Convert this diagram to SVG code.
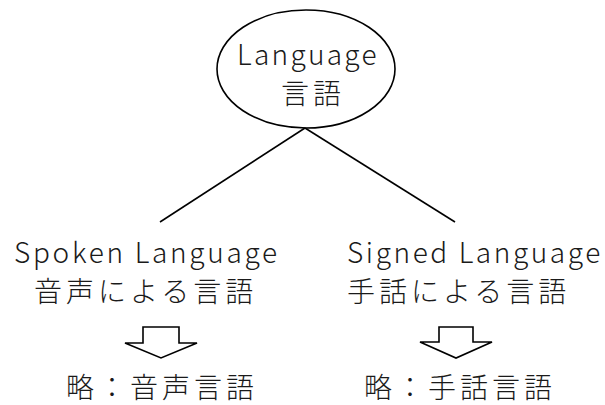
<svg xmlns="http://www.w3.org/2000/svg" width="605" height="405" viewBox="0 0 605 405">
<style>
text{font-family:"Noto Sans CJK JP","Noto Sans",sans-serif;font-size:28px;font-weight:300;fill:#1a1a1a}
.l{letter-spacing:2.6px}
.j{letter-spacing:4px}
.s{fill:none;stroke:#000;stroke-width:1.6}
</style>
<rect width="605" height="405" fill="#fff"/>
<g id="connectors">
<line class="s" x1="305" y1="128" x2="160" y2="222"/>
<line class="s" x1="305" y1="128" x2="455" y2="222"/>
</g>
<g id="language">
<ellipse class="s" cx="306" cy="69" rx="89" ry="59"/>
<text x="237" y="65" style="letter-spacing:2.3px">Language</text>
<text class="j" x="281" y="104">言語</text>
</g>
<g id="spoken">
<text class="l" x="14" y="263" style="letter-spacing:2.7px">Spoken Language</text>
<text class="j" x="34" y="302">音声による言語</text>
</g>
<g id="signed">
<text class="l" x="347" y="263">Signed Language</text>
<text class="j" x="347" y="302">手話による言語</text>
</g>
<g id="arrow-left">
<polygon class="s" points="143,327 179,327 179,343 197,343 161,358 125,343 143,343"/>
</g>
<g id="arrow-right">
<polygon class="s" points="439,327 473,327 473,342 492,342 456,358 420,342 439,342"/>
</g>
<g id="abbr-spoken">
<text class="j" x="66" y="398">略：音声言語</text>
</g>
<g id="abbr-signed">
<text class="j" x="364" y="398">略：手話言語</text>
</g>
</svg>
